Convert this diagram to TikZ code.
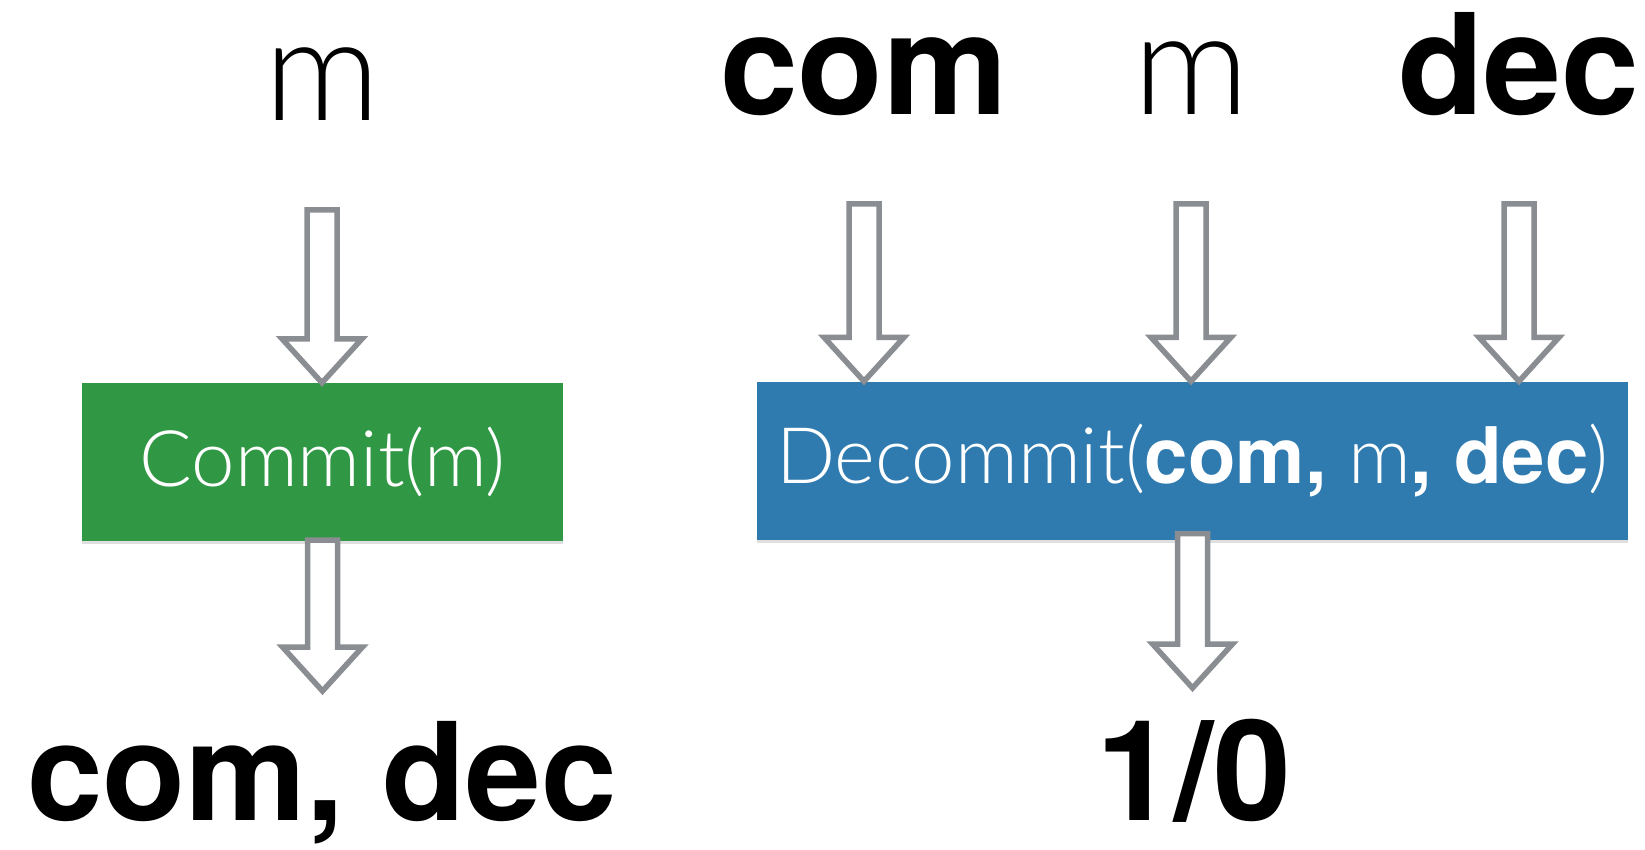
\documentclass[tikz,border=0pt]{standalone}
\usepackage{fontspec}
\setmainfont{TeX Gyre Heros}
\newfontfamily\lightfont{Lato Light}
\usetikzlibrary{calc, shadows}

\definecolor{commitgreen}{RGB}{48,151,68}
\definecolor{decommitblue}{RGB}{47,123,176}
\definecolor{arrowgray}{RGB}{138,141,145}

\newcommand{\boldpart}[1]{{\normalfont\bfseries #1}}

% hollow block arrow pointing down: shaft starts at #1, tip ends at the height of #2
\newcommand{\hollowarrow}[2]{%
  \draw[hollow] let \p1=(#1), \p2=(#2) in
    (\x1-15pt,\y1) -- (\x1+15pt,\y1) -- (\x1+15pt,\y2+44pt) -- (\x1+40pt,\y2+44pt)
    -- (\x1,\y2) -- (\x1-40pt,\y2+44pt) -- (\x1-15pt,\y2+44pt) -- cycle;
}

\begin{document}
\begin{tikzpicture}[
  x=1pt, y=1pt,
  every node/.style={inner sep=0pt},
  lbl/.style={anchor=base, font=\fontsize{144}{144}\selectfont\lightfont},
  boldlbl/.style={anchor=base, font=\fontsize{140}{140}\selectfont\bfseries},
  algbox/.style={minimum height=158pt, text=white, font=\fontsize{78}{78}\selectfont\lightfont,
    drop shadow={shadow xshift=0pt, shadow yshift=-3pt, opacity=.25}},
  hollow/.style={draw=arrowgray, fill=white, line width=5.5pt}
]
\useasboundingbox (0,0) rectangle (1645,-850);

% commit side
\node[lbl] (msg) at (322,-121) {m};
\node[algbox, fill=commitgreen, minimum width=481pt] (commit) at (322.5,-462) {Commit(m)};
\node[boldlbl, font=\fontsize{136}{136}\selectfont\bfseries] (comdec) at (322,-820) {com, dec};

% decommit side
\node[boldlbl] (com) at (864,-115) {com};
\node[lbl] (msgb) at (1191,-115) {m};
\node[boldlbl] (dec) at (1519,-115) {dec};
\node[algbox, fill=decommitblue, minimum width=871pt] (decommit) at (1192.5,-460.5)
  {Decommit(\boldpart{com,} m\boldpart{, dec})};
\node[boldlbl] (result) at (1194,-820) {1/0};

% inputs
\hollowarrow{[yshift=-89pt]msg.base}{msg.base |- commit.north}
\hollowarrow{[yshift=-89pt]com.base}{com.base |- decommit.north}
\hollowarrow{[yshift=-89pt]msgb.base}{msgb.base |- decommit.north}
\hollowarrow{[yshift=-89pt]dec.base}{dec.base |- decommit.north}

% outputs
\hollowarrow{[yshift=1pt]commit.south}{[yshift=129pt]comdec.base}
\hollowarrow{[yshift=6pt]decommit.south}{[yshift=132pt]result.base}
\end{tikzpicture}
\end{document}
